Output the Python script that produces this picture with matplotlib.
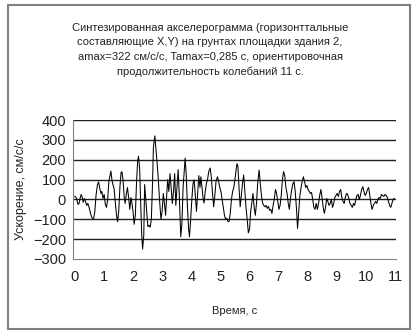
import matplotlib
matplotlib.use("Agg")
import matplotlib.pyplot as plt
from matplotlib.patches import Rectangle

plt.rcParams['font.family'] = ['Liberation Sans', 'DejaVu Sans']

title = ("Синтезированная акселерограмма (горизонттальные\n"
         "составляющие X,Y) на грунтах площадки здания 2,\n"
         "amax=322 см/с/с, Tamax=0,285 с, ориентировочная\n"
         "продолжительность колебаний 11 с.")
xlabel = "Время, с"
ylabel = "Ускорение, см/с/с"

x_ticks = list(range(0, 12))
y_ticks = [-300, -200, -100, 0, 100, 200, 300, 400]

# время, с
t = [0.00, 0.04, 0.08, 0.11, 0.15, 0.19, 0.22, 0.26, 0.29, 0.33, 0.37, 0.41,
     0.45, 0.50, 0.55, 0.60, 0.65, 0.69, 0.73, 0.78, 0.82, 0.86, 0.90, 0.93,
     0.97, 1.01, 1.05, 1.09, 1.13, 1.17, 1.21, 1.24, 1.28, 1.32, 1.35, 1.39,
     1.43, 1.47, 1.51, 1.55, 1.59, 1.62, 1.66, 1.70, 1.73, 1.77, 1.81, 1.85,
     1.89, 1.93, 1.97, 2.00, 2.04, 2.08, 2.12, 2.16, 2.19, 2.23, 2.26, 2.30,
     2.33, 2.37, 2.40, 2.43, 2.47, 2.51, 2.55, 2.59, 2.63, 2.67, 2.70, 2.75,
     2.79, 2.83, 2.87, 2.91, 2.96, 3.00, 3.04, 3.08, 3.12, 3.16, 3.19, 3.23,
     3.27, 3.31, 3.35, 3.39, 3.43, 3.47, 3.51, 3.55, 3.59, 3.64, 3.68, 3.72,
     3.77, 3.79, 3.83, 3.87, 3.91, 3.94, 3.98, 4.02, 4.06, 4.10, 4.14, 4.18,
     4.22, 4.26, 4.30, 4.33, 4.37, 4.41, 4.44, 4.48, 4.52, 4.56, 4.60, 4.65,
     4.69, 4.73, 4.77, 4.81, 4.85, 4.90, 4.94, 4.98, 5.02, 5.06, 5.10, 5.14,
     5.18, 5.22, 5.26, 5.30, 5.34, 5.38, 5.42, 5.46, 5.50, 5.54, 5.57, 5.60,
     5.64, 5.68, 5.72, 5.76, 5.80, 5.84, 5.88, 5.92, 5.96, 6.00, 6.04, 6.08,
     6.12, 6.16, 6.20, 6.24, 6.28, 6.33, 6.37, 6.41, 6.45, 6.49, 6.53, 6.57,
     6.61, 6.65, 6.69, 6.73, 6.77, 6.81, 6.85, 6.89, 6.93, 6.97, 7.01, 7.05,
     7.09, 7.13, 7.17, 7.21, 7.25, 7.29, 7.33, 7.37, 7.41, 7.45, 7.49, 7.53,
     7.57, 7.61, 7.65, 7.69, 7.73, 7.77, 7.81, 7.85, 7.89, 7.93, 7.97, 8.01,
     8.05, 8.09, 8.13, 8.17, 8.21, 8.25, 8.29, 8.33, 8.37, 8.41, 8.45, 8.49,
     8.53, 8.57, 8.61, 8.65, 8.69, 8.73, 8.77, 8.81, 8.85, 8.89, 8.93, 8.97,
     9.01, 9.05, 9.09, 9.13, 9.17, 9.21, 9.25, 9.29, 9.33, 9.37, 9.41, 9.45,
     9.49, 9.53, 9.57, 9.61, 9.65, 9.69, 9.73, 9.77, 9.81, 9.85, 9.89, 9.93,
     9.97, 10.01, 10.05, 10.09, 10.13, 10.17, 10.21, 10.25, 10.29, 10.33,
     10.37, 10.41, 10.45, 10.49, 10.53, 10.57, 10.61, 10.65, 10.69, 10.73,
     10.77, 10.81, 10.85, 10.89, 10.93, 10.97]

# ускорение, см/с/с
acc = [15, 12, -5, -25, -20, 10, 25, 10, -15, 5, -10, -30,
       -20, -45, -75, -95, -95, -60, 20, 75, 88, 55, 30, 40,
       5, 25, -25, -40, 0, 90, 120, 143, 95, 70, 55, -10,
       -75, -112, -60, 60, 135, 140, 95, 10, -20, 25, 60, 10,
       -50, 10, -25, -60, -125, -80, 80, 195, 218, 150, 0, -180,
       -250, -180, 75, 20, -60, -137, -130, -140, -100, 80, 260, 320,
       250, 180, 100, 0, -100, -60, 30, -20, -80, 30, 100, 40,
       130, 60, -20, 40, 130, -30, 60, 150, 20, -188, -120, 60,
       170, 208, 120, -40, -150, -188, -100, 0, 80, 98, 20, -60,
       30, 120, 60, 114, 60, 0, -18, 40, 80, 100, 140, 158,
       110, 30, -37, 20, 90, 114, 90, 60, 40, 0, -40, -80,
       -100, -95, -112, -110, -70, 0, 40, 60, 100, 150, 180, 170,
       60, -37, 20, 80, 123, 40, -40, -100, -168, -150, -60, -18,
       30, -40, -80, -20, 80, 148, 80, 20, -18, -30, -37, -30,
       -45, -35, -55, -50, -70, -30, 0, 50, 30, -10, -50, -30,
       20, 100, 140, 120, 60, 30, -20, -50, 10, 50, 80, 89,
       40, -40, -146, -60, 20, 60, 90, 114, 90, 60, 70, 50,
       40, 30, 35, 0, -40, -50, -20, -50, -20, 20, 50, 10,
       -40, -70, -40, 5, -10, -30, -20, 0, -40, -20, 10, 20,
       30, 15, 40, 50, 10, -10, -20, 10, 30, 25, 5, -20,
       -30, -40, -20, -30, 0, 20, 25, 0, 20, 50, 64, 40,
       20, 30, 50, 60, 20, -20, -50, -30, -20, -10,
       -20, 0, 10, 5, 25, 20, 15, 25, 20, 10,
       -10, -30, -40, -20, 0, 5]

fig = plt.figure(figsize=(4.2, 3.36), dpi=100)
fig.patch.set_facecolor('white')

# рамка вокруг диаграммы
fig.patches.append(Rectangle((8 / 420, 1 - 329 / 336), 402 / 420, 324 / 336,
                             transform=fig.transFigure, fill=False,
                             edgecolor='#808080', linewidth=1.5))

ax = fig.add_axes([73 / 420, 1 - 259 / 336, 323 / 420, 139 / 336])
ax.plot(t, acc, color='black', linewidth=0.75)

ax.set_xlim(-0.06, 11.03)
ax.set_ylim(-300, 400)
ax.set_xticks(x_ticks)
ax.set_yticks(y_ticks)

for y in y_ticks[1:]:
    ax.axhline(y, color='#202020', linewidth=1.0, zorder=0)

for side in ['top', 'right']:
    ax.spines[side].set_visible(False)
ax.spines['left'].set_color('#808080')
ax.spines['bottom'].set_color('#808080')
ax.tick_params(axis='both', length=0, labelsize=10.5, colors='#222222')
ax.tick_params(axis='y', pad=5)
ax.tick_params(axis='x', pad=8)

ax.set_ylabel(ylabel, fontsize=9, labelpad=4, color='#222222')
ax.set_xlabel(xlabel, fontsize=8, color='#222222')
ax.xaxis.set_label_coords(0.5, -0.34)

fig.text(0.5, 1 - 50 / 336, title, ha='center', va='center',
         fontsize=8, linespacing=1.55, color='#222222')

fig.savefig('out.png', dpi=100)
